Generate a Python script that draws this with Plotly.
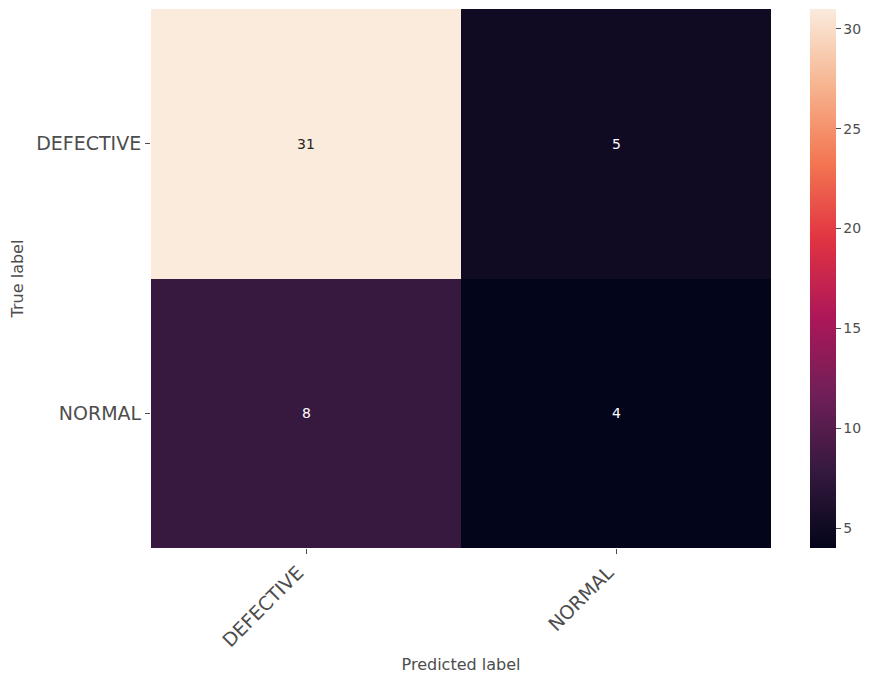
import plotly.graph_objects as go

true_labels = ["DEFECTIVE", "NORMAL"]
pred_labels = ["DEFECTIVE", "NORMAL"]
counts = [[31, 5],
          [8, 4]]
cbar_ticks = [5, 10, 15, 20, 25, 30]

rocket = [
    [0.0, "#03051a"],
    [1/7, "#35193e"],
    [2/7, "#701f57"],
    [3/7, "#ad1759"],
    [4/7, "#e13342"],
    [5/7, "#f37651"],
    [6/7, "#f6b48f"],
    [1.0, "#faebdd"],
]

zmin = min(min(r) for r in counts)
zmax = max(max(r) for r in counts)

FONT = "DejaVu Sans"
GREY = "#4d4d4d"

fig = go.Figure(go.Heatmap(
    z=counts, x=pred_labels, y=true_labels,
    colorscale=rocket, zmin=zmin, zmax=zmax,
    colorbar=dict(
        x=1.063, xanchor="left", y=0.5, yanchor="middle",
        len=539, lenmode="pixels", thickness=26, outlinewidth=0,
        xpad=0, ypad=0,
        tickvals=cbar_ticks, ticks="outside", ticklen=5, tickcolor=GREY,
        tickprefix=" ",
        tickfont=dict(family=FONT, size=14, color=GREY),
    ),
    hoverinfo="skip",
))

annotations = []
for i, yl in enumerate(true_labels):
    for j, xl in enumerate(pred_labels):
        v = counts[i][j]
        frac = (v - zmin) / (zmax - zmin)
        annotations.append(dict(
            x=xl, y=yl, text=str(v), showarrow=False,
            font=dict(family=FONT, size=14,
                      color="#262626" if frac > 0.6 else "white"),
        ))

fig.update_layout(
    width=873, height=681,
    margin=dict(l=151, r=102, t=9, b=133),
    paper_bgcolor="white", plot_bgcolor="white",
    annotations=annotations,
    font=dict(family=FONT, color=GREY),
    xaxis=dict(
        title=dict(text="Predicted label", font=dict(family=FONT, size=16, color=GREY), standoff=8),
        tickangle=-45, ticks="outside", ticklen=5, tickcolor=GREY,
        ticklabelshift=-8,
        tickfont=dict(family=FONT, size=19, color=GREY),
        showgrid=False, zeroline=False, automargin=False,
    ),
    yaxis=dict(
        title=dict(text="True label", font=dict(family=FONT, size=16, color=GREY), standoff=8),
        autorange="reversed", ticks="outside", ticklen=5, tickcolor=GREY,
        tickfont=dict(family=FONT, size=19, color=GREY),
        showgrid=False, zeroline=False, automargin=False,
    ),
)

fig.write_html("out.html", config={"displayModeBar": False},
               post_script="document.body.style.margin='0';")
